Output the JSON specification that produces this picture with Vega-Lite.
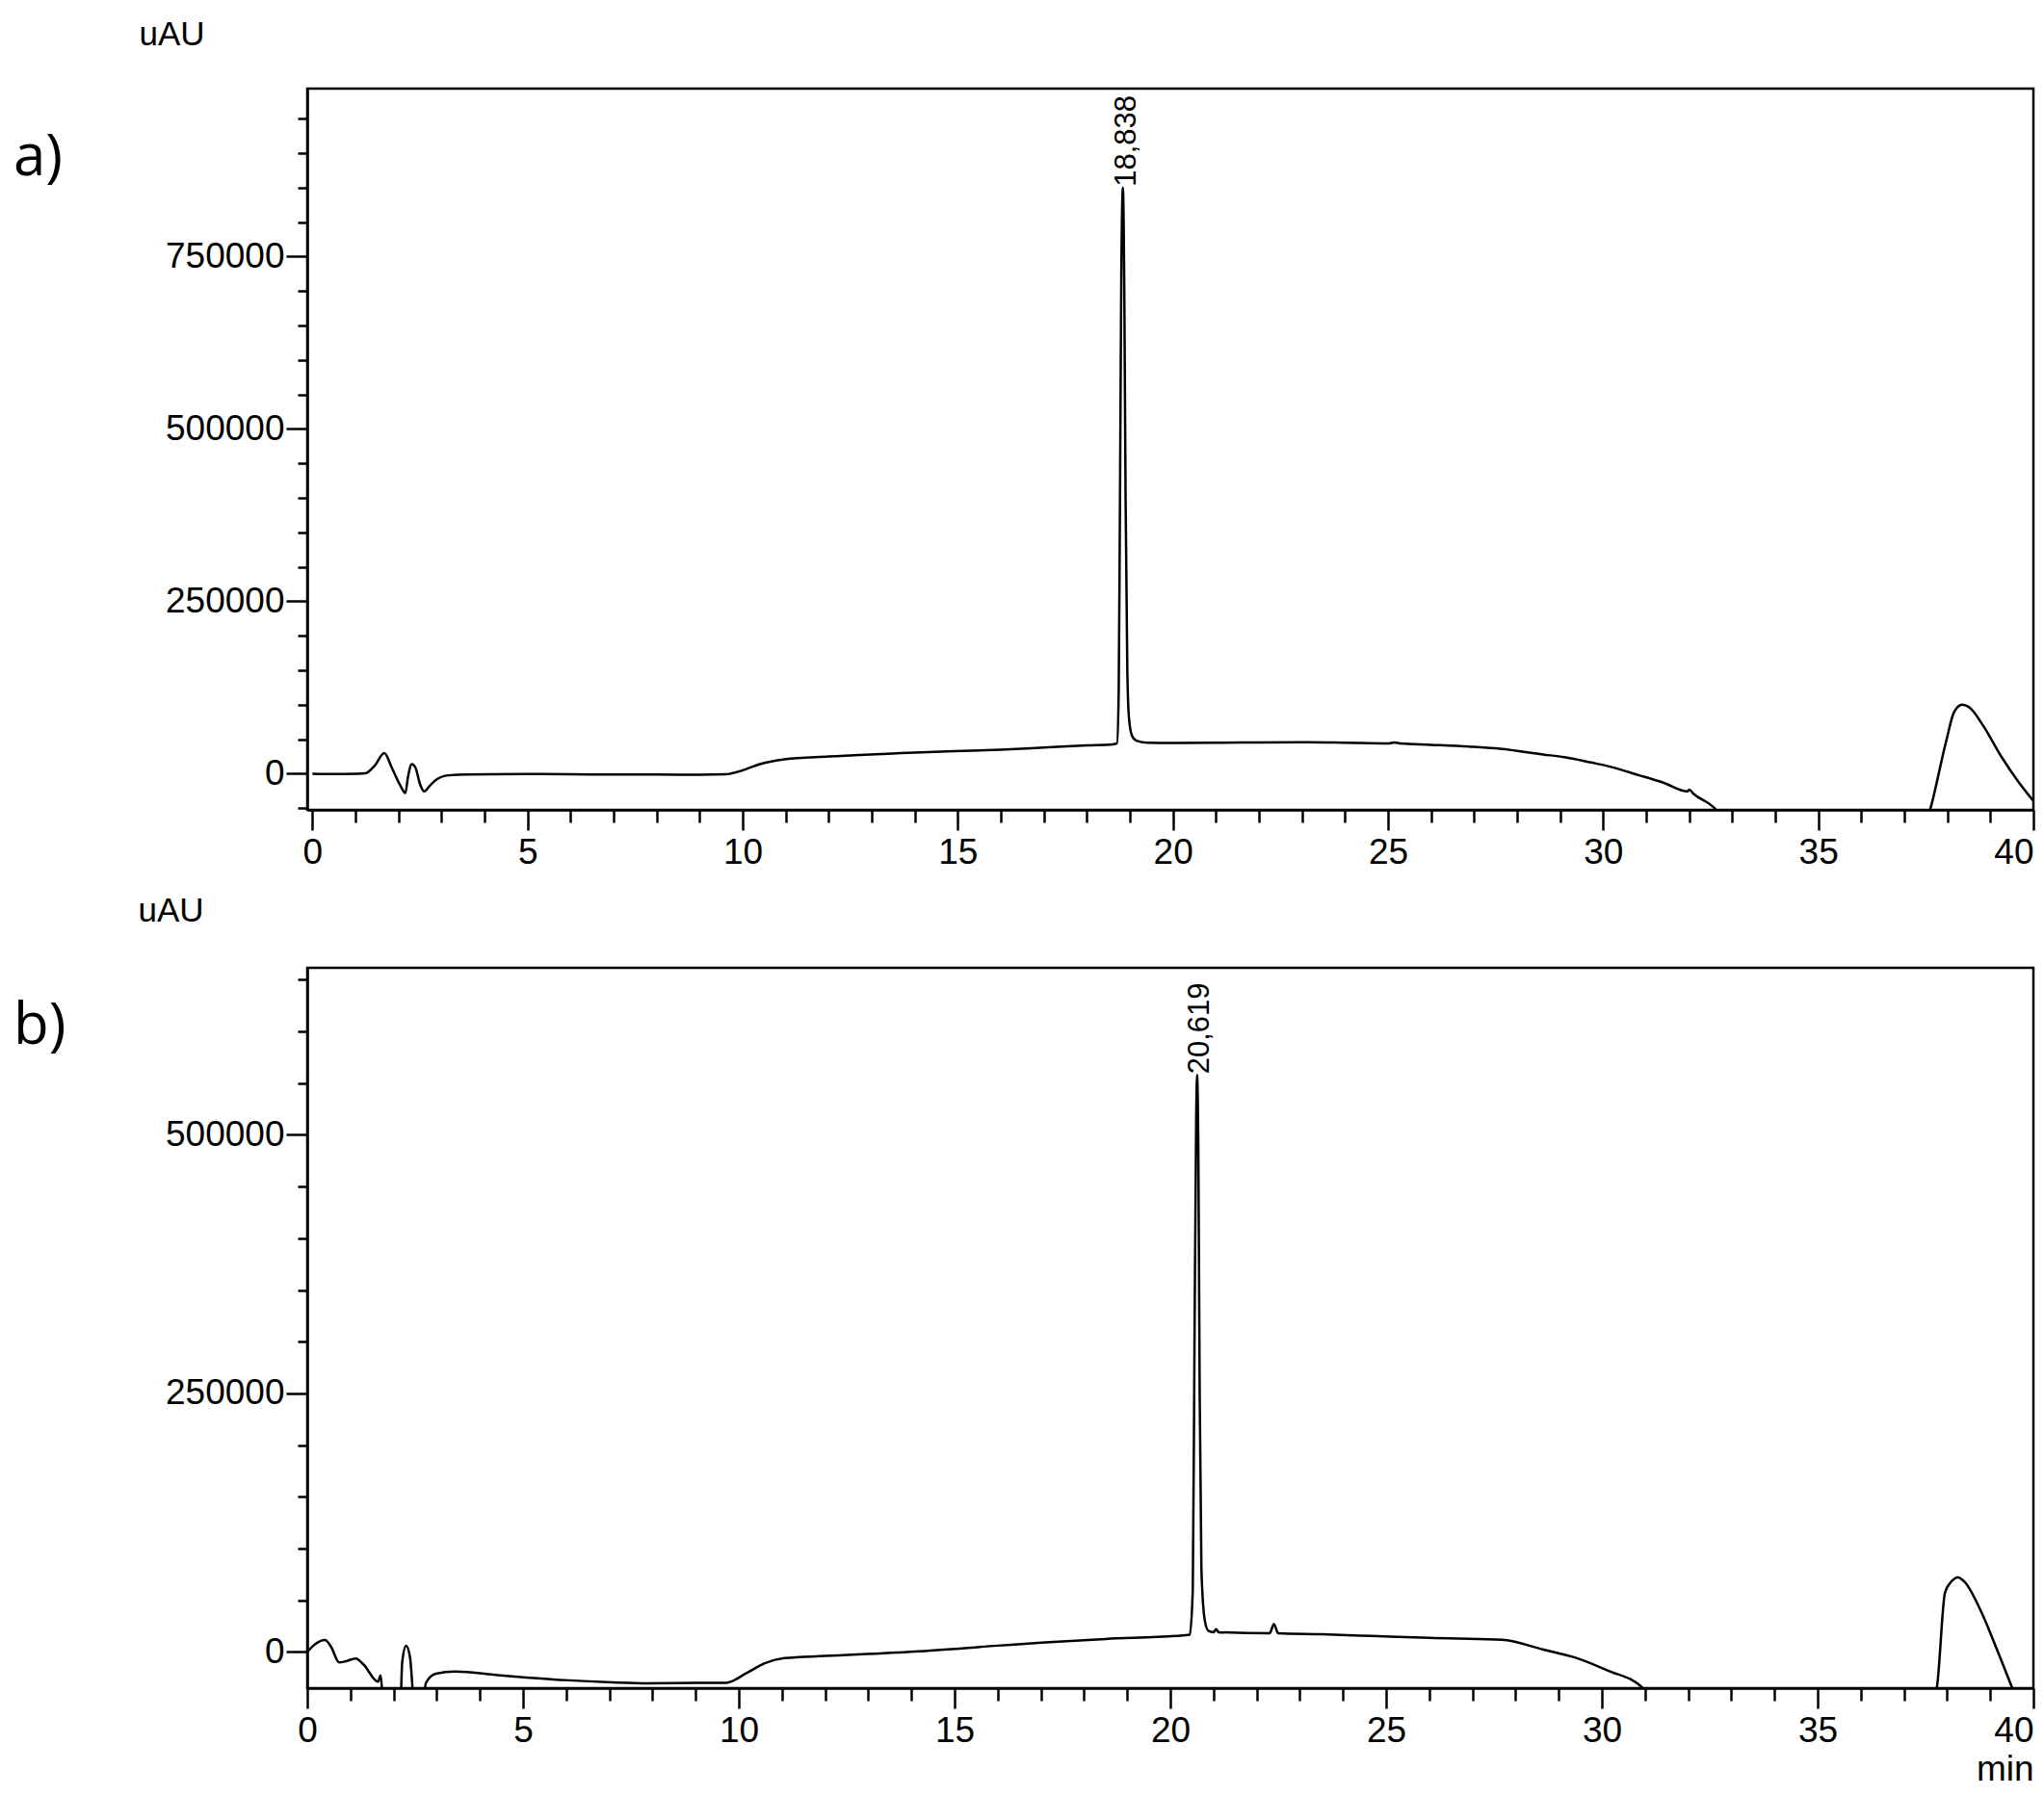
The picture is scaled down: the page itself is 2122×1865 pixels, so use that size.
{
  "$schema": "https://vega.github.io/schema/vega-lite/v6.json",
  "background": "white",
  "padding": {"left": 12, "top": 16, "right": 0, "bottom": 0},
  "config": {
    "view": {"stroke": "black", "strokeWidth": 2.5},
    "font": "Liberation Sans",
    "axis": {
      "domainColor": "black", "domainWidth": 2.5,
      "tickColor": "black", "tickWidth": 2.5,
      "labelColor": "black", "labelFont": "Liberation Sans", "labelFontSize": 37,
      "titleFont": "Liberation Sans", "titleColor": "black", "titleFontWeight": "normal",
      "grid": false, "labelOverlap": false, "labelFlush": false, "tickCount": 60
    }
  },
  "datasets": {
    "a": [
      {"t": 0, "v": 0}, {"t": 0.5, "v": -500}, {"t": 1.0, "v": 0}, {"t": 1.22, "v": 500},
      {"t": 1.45, "v": 12000}, {"t": 1.67, "v": 30000}, {"t": 1.85, "v": 8000}, {"t": 2.05, "v": -18000},
      {"t": 2.16, "v": -28000}, {"t": 2.22, "v": -5000}, {"t": 2.31, "v": 14000}, {"t": 2.4, "v": 8000},
      {"t": 2.5, "v": -15000}, {"t": 2.6, "v": -25600}, {"t": 2.72, "v": -18000}, {"t": 2.86, "v": -9300},
      {"t": 3.16, "v": -2300}, {"t": 3.6, "v": -1000}, {"t": 5, "v": -500}, {"t": 6, "v": -800},
      {"t": 7, "v": -1000}, {"t": 8, "v": -1200}, {"t": 9, "v": -1400}, {"t": 9.6, "v": -800},
      {"t": 10.0, "v": 5000}, {"t": 10.4, "v": 14000}, {"t": 10.97, "v": 21000}, {"t": 12, "v": 25000},
      {"t": 14, "v": 30700}, {"t": 16, "v": 35000}, {"t": 17, "v": 38000}, {"t": 18, "v": 41000},
      {"t": 18.6, "v": 42500}, {"t": 18.7, "v": 44000}, {"t": 18.74, "v": 120000}, {"t": 18.77, "v": 400000},
      {"t": 18.8, "v": 720000}, {"t": 18.838, "v": 850000}, {"t": 18.87, "v": 700000}, {"t": 18.9, "v": 400000},
      {"t": 18.94, "v": 150000}, {"t": 18.98, "v": 80000}, {"t": 19.05, "v": 55000}, {"t": 19.15, "v": 48000},
      {"t": 19.4, "v": 45000}, {"t": 20, "v": 44500}, {"t": 21, "v": 45000}, {"t": 22, "v": 45500},
      {"t": 23.1, "v": 45700}, {"t": 24, "v": 45000}, {"t": 25, "v": 44000}, {"t": 25.15, "v": 45500},
      {"t": 25.3, "v": 43800}, {"t": 26, "v": 42000}, {"t": 27, "v": 39000}, {"t": 27.6, "v": 36300},
      {"t": 28.6, "v": 28000}, {"t": 29.1, "v": 24000}, {"t": 29.72, "v": 16300}, {"t": 30.05, "v": 12000},
      {"t": 30.84, "v": -2300}, {"t": 31.4, "v": -13000}, {"t": 31.96, "v": -25600}, {"t": 32.0, "v": -23000},
      {"t": 32.1, "v": -29000}, {"t": 32.63, "v": -52700}, {"t": 33.0, "v": -90000}, {"t": 37.4, "v": -90000},
      {"t": 37.6, "v": -52000}, {"t": 37.97, "v": 46500}, {"t": 38.15, "v": 88400}, {"t": 38.34, "v": 100200},
      {"t": 38.53, "v": 95400}, {"t": 38.83, "v": 69900}, {"t": 39.27, "v": 23300}, {"t": 39.65, "v": -11600},
      {"t": 40.0, "v": -39500}
    ],
    "b": [
      {"t": 0, "v": 0}, {"t": 0.2, "v": 8000}, {"t": 0.41, "v": 11400}, {"t": 0.55, "v": 5000},
      {"t": 0.74, "v": -10200}, {"t": 0.9, "v": -9000}, {"t": 1.12, "v": -6500}, {"t": 1.3, "v": -12000},
      {"t": 1.64, "v": -28800}, {"t": 1.7, "v": -22700}, {"t": 1.75, "v": -45000}, {"t": 1.9, "v": -60000},
      {"t": 2.15, "v": -60000}, {"t": 2.2, "v": -10000}, {"t": 2.29, "v": 5900}, {"t": 2.38, "v": -5000},
      {"t": 2.5, "v": -60000}, {"t": 2.65, "v": -60000}, {"t": 2.75, "v": -30000}, {"t": 2.98, "v": -21100},
      {"t": 3.42, "v": -19000}, {"t": 4.47, "v": -22700}, {"t": 5.95, "v": -27300}, {"t": 7.07, "v": -29500},
      {"t": 7.89, "v": -30400}, {"t": 9.0, "v": -30000}, {"t": 9.7, "v": -29900}, {"t": 10.2, "v": -20000},
      {"t": 10.6, "v": -11000}, {"t": 11.06, "v": -6000}, {"t": 12, "v": -4000}, {"t": 14.08, "v": 300},
      {"t": 16, "v": 6000}, {"t": 17.1, "v": 9200}, {"t": 18.5, "v": 12500}, {"t": 20.13, "v": 15400},
      {"t": 20.45, "v": 16500}, {"t": 20.52, "v": 60000}, {"t": 20.56, "v": 300000}, {"t": 20.6, "v": 520000},
      {"t": 20.619, "v": 558000}, {"t": 20.65, "v": 480000}, {"t": 20.68, "v": 250000}, {"t": 20.72, "v": 80000},
      {"t": 20.8, "v": 30000}, {"t": 20.88, "v": 20500}, {"t": 21.0, "v": 19000}, {"t": 21.06, "v": 22000},
      {"t": 21.12, "v": 19000}, {"t": 22.3, "v": 18000}, {"t": 22.4, "v": 26800}, {"t": 22.5, "v": 18000},
      {"t": 23.5, "v": 17000}, {"t": 24.66, "v": 15400}, {"t": 26, "v": 13500}, {"t": 27.68, "v": 11700},
      {"t": 28.65, "v": 2100}, {"t": 29.39, "v": -5600}, {"t": 30.13, "v": -18000}, {"t": 30.95, "v": -35000},
      {"t": 31.3, "v": -60000}, {"t": 37.5, "v": -60000}, {"t": 37.76, "v": -35000}, {"t": 37.95, "v": 57000},
      {"t": 38.1, "v": 68000}, {"t": 38.25, "v": 72100}, {"t": 38.4, "v": 68000}, {"t": 38.8, "v": 38000},
      {"t": 39.1, "v": 8000}, {"t": 39.51, "v": -35000}, {"t": 39.7, "v": -55000}, {"t": 40.0, "v": -60000}
    ],
    "peaks_a": [{"t": 18.838, "v": 850000, "label": "18,838"}],
    "peaks_b": [{"t": 20.619, "v": 558000, "label": "20,619"}]
  },
  "bounds": "flush",
  "spacing": 164,
  "vconcat": [
    {
      "width": 1792,
      "height": 749,
      "title": {"text": "a)", "anchor": "start", "frame": "group", "orient": "top", "font": "Open Sans", "fontSize": 60, "fontWeight": "normal", "color": "black", "baseline": "alphabetic", "offset": 0, "dx": -305, "dy": 224},
      "layer": [
        {
          "data": {"name": "a"},
          "mark": {"type": "line", "color": "black", "strokeWidth": 2.5, "clip": true, "interpolate": "monotone"},
          "encoding": {
            "x": {"field": "t", "type": "quantitative", "scale": {"domain": [-0.12, 40], "nice": false, "zero": false},
              "axis": {"values": [0,1,2,3,4,5,6,7,8,9,10,11,12,13,14,15,16,17,18,19,20,21,22,23,24,25,26,27,28,29,30,31,32,33,34,35,36,37,38,39,40],
                "tickCount": 60,
                "format": "d",
                "labelExpr": "datum.value % 5 === 0 ? datum.label : ''",
                "tickSize": {"condition": {"test": "datum.value % 5 === 0", "value": 21}, "value": 13},
                "labelAlign": {"condition": {"test": "datum.value === 40", "value": "right"}, "value": "center"},
                "labelOverlap": false, "labelFlush": false,
                "labelPadding": 5, "title": null}},
            "y": {"field": "v", "type": "quantitative", "scale": {"domain": [-52400, 993600], "nice": false, "zero": false},
              "axis": {"values": [-50000,0,50000,100000,150000,200000,250000,300000,350000,400000,450000,500000,550000,600000,650000,700000,750000,800000,850000,900000,950000],
                "tickCount": 60,
                "format": "d",
                "labelExpr": "datum.value % 250000 === 0 ? datum.label : ''",
                "tickSize": {"condition": {"test": "datum.value % 250000 === 0", "value": 22}, "value": 10},
                "labelOverlap": false,
                "labelPadding": 2,
                "title": "uAU", "titleAngle": 0, "titleX": -141, "titleY": -46, "titleAlign": "center", "titleBaseline": "alphabetic", "titleFontSize": 35}}
          }
        },
        {
          "data": {"name": "peaks_a"},
          "mark": {"type": "text", "angle": 270, "align": "left", "baseline": "middle", "dx": 1, "dy": 4, "fontSize": 31, "color": "black", "font": "Liberation Sans"},
          "encoding": {
            "x": {"field": "t", "type": "quantitative"},
            "y": {"field": "v", "type": "quantitative"},
            "text": {"field": "label"}
          }
        }
      ]
    },
    {
      "width": 1792,
      "height": 748,
      "title": {"text": "b)", "anchor": "start", "frame": "group", "orient": "top", "font": "Open Sans", "fontSize": 60, "fontWeight": "normal", "color": "black", "baseline": "alphabetic", "offset": 0, "dx": -305, "dy": 216},
      "layer": [
        {
          "data": {"name": "b"},
          "mark": {"type": "line", "color": "black", "strokeWidth": 2.5, "clip": true, "interpolate": "monotone"},
          "encoding": {
            "x": {"field": "t", "type": "quantitative", "scale": {"domain": [0, 40], "nice": false, "zero": false},
              "axis": {"values": [0,1,2,3,4,5,6,7,8,9,10,11,12,13,14,15,16,17,18,19,20,21,22,23,24,25,26,27,28,29,30,31,32,33,34,35,36,37,38,39,40],
                "tickCount": 60,
                "format": "d",
                "labelExpr": "datum.value % 5 === 0 ? datum.label : ''",
                "tickSize": {"condition": {"test": "datum.value % 5 === 0", "value": 21}, "value": 13},
                "labelAlign": {"condition": {"test": "datum.value === 40", "value": "right"}, "value": "center"},
                "labelOverlap": false, "labelFlush": false,
                "labelPadding": 5,
                "title": "min", "titleX": 1792, "titleY": 95, "titleAlign": "right", "titleBaseline": "alphabetic", "titleFontSize": 37}},
            "y": {"field": "v", "type": "quantitative", "scale": {"domain": [-35100, 661600], "nice": false, "zero": false},
              "axis": {"values": [0,50000,100000,150000,200000,250000,300000,350000,400000,450000,500000,550000,600000,650000],
                "tickCount": 60,
                "format": "d",
                "labelExpr": "datum.value % 250000 === 0 ? datum.label : ''",
                "tickSize": {"condition": {"test": "datum.value % 250000 === 0", "value": 22}, "value": 10},
                "labelOverlap": false,
                "labelPadding": 2,
                "title": "uAU", "titleAngle": 0, "titleX": -142, "titleY": -49, "titleAlign": "center", "titleBaseline": "alphabetic", "titleFontSize": 35}}
          }
        },
        {
          "data": {"name": "peaks_b"},
          "mark": {"type": "text", "angle": 270, "align": "left", "baseline": "middle", "dx": 1, "dy": 3, "fontSize": 31, "color": "black", "font": "Liberation Sans"},
          "encoding": {
            "x": {"field": "t", "type": "quantitative"},
            "y": {"field": "v", "type": "quantitative"},
            "text": {"field": "label"}
          }
        }
      ]
    }
  ]
}
